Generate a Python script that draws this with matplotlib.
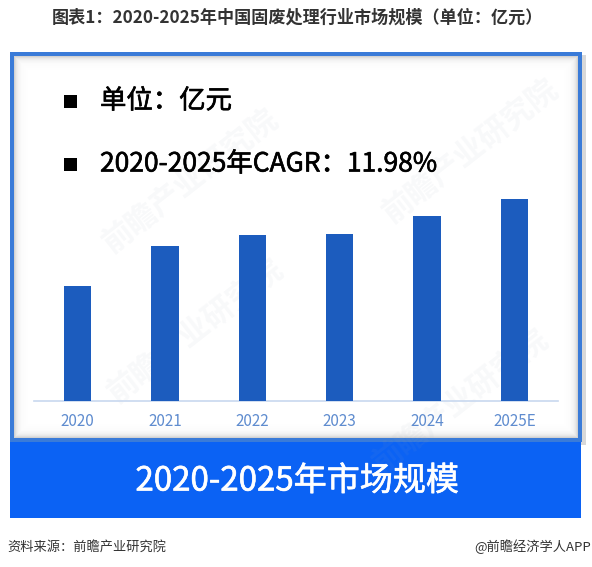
import matplotlib
matplotlib.use("Agg")
import matplotlib.pyplot as plt
import matplotlib.patheffects as pe
from matplotlib.patches import Rectangle
import numpy as np

plt.rcParams["font.family"] = ["Noto Sans CJK SC", "DejaVu Sans"]

# data (亿元)
years = ["2020", "2021", "2022", "2023", "2024", "2025E"]
market_size = [1147, 1547, 1664, 1674, 1854, 2017]
cagr = "11.98%"

title = "图表1：2020-2025年中国固废处理行业市场规模（单位：亿元）"
banner = "2020-2025年市场规模"
source = "资料来源：前瞻产业研究院"
credit = "@前瞻经济学人APP"

BAR_COLOR = "#1c5cbe"
FRAME_COLOR = "#3a7bd8"
BANNER_COLOR = "#0b62f4"
TICK_COLOR = "#5f8ccf"

W, H = 592, 567
fig = plt.figure(figsize=(W / 100, H / 100), dpi=100)
fig.patch.set_facecolor("white")

# full-figure axes in pixel coordinates for the decoration
bg = fig.add_axes([0, 0, 1, 1])
bg.set_xlim(0, W)
bg.set_ylim(H, 0)
bg.axis("off")

# outer drop shadow of the box
bg.add_patch(Rectangle((13, 55), 573, 390, facecolor="#d8d8d8", edgecolor="none", zorder=1))
# framed white box
bg.add_patch(Rectangle((12, 54), 568, 386, facecolor="white", edgecolor=FRAME_COLOR,
                       linewidth=4 * 0.72, zorder=2))

# inner shadow along the edges of the box
x0, y0, x1, y1 = 14, 56, 578, 438
yy, xx = np.mgrid[0:y1 - y0, 0:x1 - x0]
d = np.minimum.reduce([xx, yy, (x1 - x0 - 1) - xx, (y1 - y0 - 1) - yy]).astype(float)
alpha = 0.32 * np.exp(-d / 3.0)
shade = np.zeros((y1 - y0, x1 - x0, 4))
shade[..., :3] = 0.45
shade[..., 3] = alpha
bg.imshow(shade, extent=(x0, x1, y1, y0), zorder=3, interpolation="bilinear", aspect="auto")

# banner under the box
bg.add_patch(Rectangle((10, 442), 571, 76, facecolor=BANNER_COLOR, edgecolor="none", zorder=2))

# faint watermarks
for wx, wy in [(195, 330), (470, 150), (190, 180), (460, 400)]:
    bg.text(wx, wy, "前瞻产业研究院", fontsize=22, color="#9aa6b8", alpha=0.07,
            rotation=38, ha="center", va="center", zorder=4, fontweight="bold")

# title and footer
bg.text(297, 18, title, fontsize=12.3, fontweight="bold", color="#333333",
        ha="center", va="center", zorder=5)
bg.text(7, 547, source, fontsize=9.5, color="#333333", ha="left", va="center", zorder=5)
bg.text(591, 547, credit, fontsize=9.5, color="#333333", ha="right", va="center", zorder=5)

# bullet notes (regular weight thickened a little with a stroke)
notes = ["单位：亿元", f"2020-2025年CAGR：{cagr}"]
for i, note in enumerate(notes):
    cy = 101 + i * 63
    bg.add_patch(Rectangle((64, cy - 6.5), 13, 13, facecolor="black", edgecolor="none", zorder=5))
    bg.text(100, cy, note, fontsize=19, color="black", ha="left", va="center", zorder=5,
            path_effects=[pe.withStroke(linewidth=0.45, foreground="black")])

bg.text(297, 481, banner, fontsize=23.8, color="white", ha="center", va="center", zorder=5,
        path_effects=[pe.withStroke(linewidth=0.45, foreground="white")])

# bar chart
ax = fig.add_axes([34 / W, (H - 401) / H, 524 / W, 210 / H])
ax.set_zorder(6)
ax.patch.set_alpha(0)
x = np.arange(len(years))
ax.bar(x, market_size, width=0.31, color=BAR_COLOR, zorder=3)
ax.set_xlim(-0.5, 5.5)
ax.set_ylim(0, 2100)
ax.set_xticks(x)
ax.set_xticklabels(years, color=TICK_COLOR, fontsize=11)
ax.tick_params(axis="x", length=0, pad=9)
ax.set_yticks([])
for side in ["top", "left", "right"]:
    ax.spines[side].set_visible(False)
ax.spines["bottom"].set_color("#c8d8ef")
ax.spines["bottom"].set_linewidth(1.2)

fig.savefig("out.png", dpi=100)
